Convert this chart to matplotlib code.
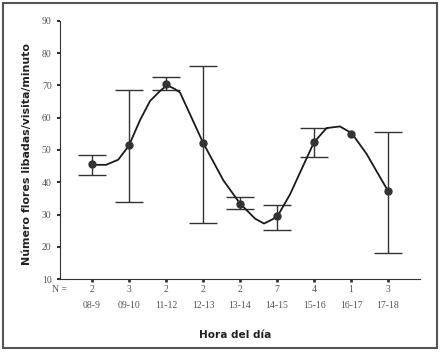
import numpy as np
import matplotlib
matplotlib.use("Agg")
import matplotlib.pyplot as plt
from matplotlib.patches import Rectangle

# Data
hours = ['08-9', '09-10', '11-12', '12-13', '13-14', '14-15', '15-16', '16-17', '17-18']
n_obs = ['2', '3', '2', '2', '2', '7', '4', '1', '3']
means = [45.6, 51.4, 70.6, 52.3, 33.4, 29.5, 52.5, 55.1, 37.3]
upper = [48.4, 68.6, 72.6, 76.0, 35.3, 33.0, 56.9, 55.1, 55.7]
lower = [42.4, 33.8, 68.5, 27.5, 31.7, 25.3, 47.7, 55.1, 18.1]

# smoothed curve as drawn in the figure
curve_x = [1.0, 1.38, 1.71, 2.0, 2.30, 2.57, 2.84, 3.03, 3.24, 3.38, 4.0, 4.55,
           5.0, 5.41, 5.65, 5.86, 6.01, 6.35, 7.0, 7.34, 7.70, 8.02, 8.42, 9.0]
curve_y = [45.4, 45.4, 47.0, 51.4, 59.3, 65.2, 68.3, 70.1, 68.9, 67.8, 52.3, 40.6,
           33.4, 28.7, 27.2, 28.4, 29.4, 36.2, 52.4, 56.8, 57.3, 55.2, 48.8, 37.3]

x = np.arange(1, len(hours) + 1)
means = np.array(means)
yerr = [means - np.array(lower), np.array(upper) - means]

fig = plt.figure(figsize=(4.41, 3.55), dpi=100)
ax = fig.add_axes([0.136, 0.214, 0.816, 0.727])

ax.plot(curve_x, curve_y, color="#1a1a1a", lw=1.3, zorder=2)
has_err = np.array(n_obs) != '1'
ax.errorbar(x[has_err], means[has_err],
            yerr=[yerr[0][has_err], yerr[1][has_err]],
            fmt='none', ecolor="#333333", elinewidth=1.0, capsize=10,
            capthick=1.0, zorder=1)
ax.plot(x, means, 'o', color="#333333", markersize=5, zorder=3)

ax.set_xlim(0.135, 9.86)
ax.set_ylim(10, 90)
ax.set_yticks(range(10, 91, 10))
ax.set_xticks(x)
ax.set_xticklabels([])
ax.spines['top'].set_visible(False)
ax.spines['right'].set_visible(False)
ax.spines['left'].set_color("#333333")
ax.spines['bottom'].set_color("#333333")
ax.tick_params(axis='y', length=2, width=1.5, pad=4, labelsize=7,
               labelcolor="#555555", color="#333333")
ax.tick_params(axis='x', length=2, width=2, color="#333333")
for lab in ax.get_yticklabels():
    lab.set_family("Liberation Serif")

# N row and hour labels below the axis
ax.annotate("N =", xy=(0.135, 0), xycoords=('data', 'axes fraction'),
            xytext=(0, -7.5), textcoords='offset points', ha='center', va='center',
            fontsize=7, family="Liberation Serif", color="#555555")
for xi, n, h in zip(x, n_obs, hours):
    ax.annotate(n, xy=(xi, 0), xycoords=('data', 'axes fraction'),
                xytext=(0, -7.5), textcoords='offset points', ha='center', va='center',
                fontsize=7, family="Liberation Serif", color="#555555")
    ax.annotate(h, xy=(xi, 0), xycoords=('data', 'axes fraction'),
                xytext=(0, -19), textcoords='offset points', ha='center', va='center',
                fontsize=7, family="Liberation Serif", color="#555555")

fig.text(27 / 441, 0.565, "Número flores libadas/visita/minuto", rotation=90,
         ha='center', va='center', fontsize=7.9, fontweight='bold', color="#222222")
fig.text(235 / 441, 0.056, "Hora del día", ha='center', va='center',
         fontsize=7.6, fontweight='bold', color="#222222")

# outer frame
fig.patches.append(Rectangle((0.007, 0.02), 0.984, 0.971, transform=fig.transFigure,
                             fill=False, edgecolor="#555555", lw=1.5))

fig.savefig("out.png", dpi=100)
